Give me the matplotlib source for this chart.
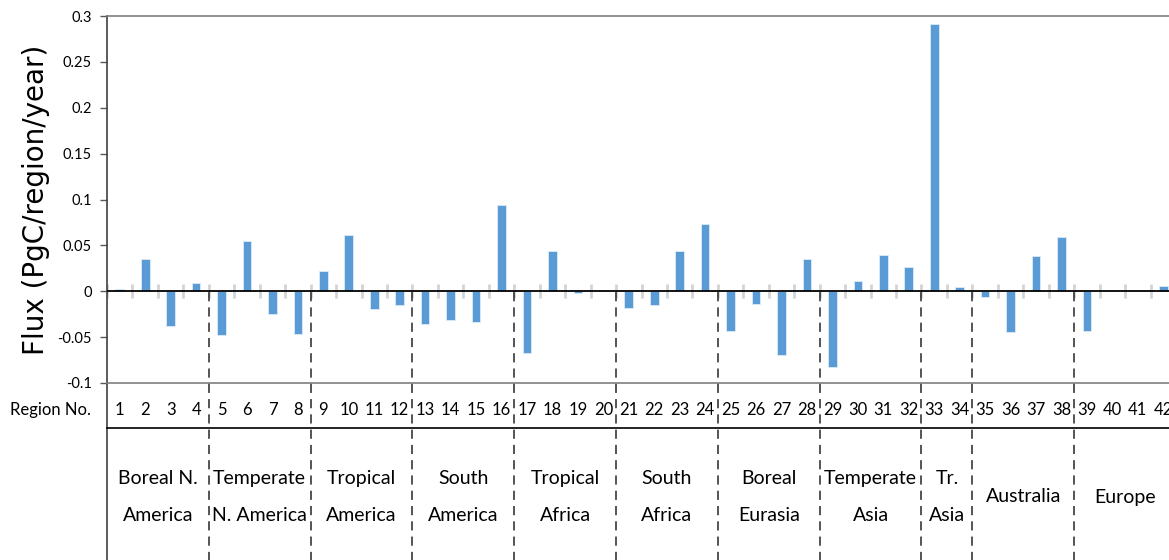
import numpy as np
import matplotlib
matplotlib.use("Agg")
import matplotlib.pyplot as plt
import matplotlib.transforms as mtransforms

# region numbers and flux values
region_no = list(range(1, 43))
flux = [0.0025, 0.035, -0.038, 0.009,
        -0.048, 0.055, -0.025, -0.047,
        0.0225, 0.061, -0.019, -0.015,
        -0.036, -0.031, -0.034, 0.094,
        -0.067, 0.0436, -0.002, 0.0,
        -0.018, -0.0145, 0.0436, 0.0738,
        -0.043, -0.0138, -0.069, 0.0356,
        -0.0825, 0.011, 0.039, 0.026,
        0.291, 0.0047,
        -0.0058, -0.044, 0.038, 0.059,
        -0.043, 0.0, 0.0005, 0.0062]

group_names = ["Boreal N.\nAmerica", "Temperate\nN. America", "Tropical\nAmerica",
               "South\nAmerica", "Tropical\nAfrica", "South\nAfrica",
               "Boreal\nEurasia", "Temperate\nAsia", "Tr.\nAsia",
               "Australia", "Europe"]
group_first = [1, 5, 9, 13, 17, 21, 25, 29, 33, 35, 39]
group_last = [4, 8, 12, 16, 20, 24, 28, 32, 34, 38, 42]

yticks = [-0.1, -0.05, 0, 0.05, 0.1, 0.15, 0.2, 0.25, 0.3]
ytick_labels = ["-0.1", "-0.05", "0", "0.05", "0.1", "0.15", "0.2", "0.25", "0.3"]

bar_color = "#5B9BD5"
narrow = ["Liberation Sans Narrow", "Lato", "DejaVu Sans"]

fig = plt.figure(figsize=(11.69, 5.6), dpi=100)
ax = fig.add_axes([107 / 1169, 1 - 383 / 560, 1069 / 1169, 367 / 560])

ax.bar(region_no, flux, width=0.34, color=bar_color, edgecolor="#DDEBF7",
       linewidth=0.6, zorder=3)

ax.set_xlim(0.5, 42.5)
ax.set_ylim(-0.1, 0.3)
ax.set_yticks(yticks)
ax.set_yticklabels(ytick_labels, fontfamily=["Lato", "DejaVu Sans"], fontsize=10.5)
ax.tick_params(axis="y", direction="out", length=5, width=1, color="#595959", pad=6)
ax.set_xticks([])

ax.spines["right"].set_visible(False)
ax.spines["top"].set_color("#7F7F7F")
ax.spines["bottom"].set_color("#7F7F7F")
ax.spines["left"].set_color("#404040")
for s in ["top", "bottom", "left"]:
    ax.spines[s].set_linewidth(1.2)

# zero line and light cross ticks between categories
ax.axhline(0, color="black", linewidth=1.3, zorder=4)
bounds = np.arange(0.5, 43, 1.0)
ax.vlines(bounds, -0.0075, 0.0075, color="#D4D4D4", linewidth=2, zorder=2)

# dashed group separators from zero line down through the table
seps = [g - 0.5 for g in group_first[1:]]
ax.vlines(seps, -0.30, 0, colors="#262626", linestyles=(0, (6, 4)),
          linewidth=1.1, clip_on=False, zorder=5)

trans = mtransforms.blended_transform_factory(ax.transData, ax.transAxes)

# table under the plot
ax.plot([0.5, 0.5], [0, -0.5], transform=trans, color="#404040",
        linewidth=1.2, clip_on=False)
row_line = (383 - 428) / 367
ax.plot([0.5, 43], [row_line, row_line], transform=trans, color="black",
        linewidth=1.2, clip_on=False)

num_y = (383 - 410) / 367
for n in region_no:
    ax.text(n, num_y, str(n), transform=trans, ha="center", va="center",
            fontsize=12, fontfamily=narrow, clip_on=False)
fig.text(91 / 1169, 1 - 410 / 560, "Region No.", ha="right", va="center",
         fontsize=12, fontfamily=narrow)

name_y = (383 - 497) / 367
for name, a, b in zip(group_names, group_first, group_last):
    ax.text((a + b) / 2, name_y, name, transform=trans, ha="center", va="center",
            fontsize=14, fontfamily=narrow, linespacing=2.4, clip_on=False)

fig.text(36 / 1169, 1 - 200 / 560, "Flux (PgC/region/year)", rotation=90,
         ha="center", va="center", fontsize=20, fontfamily="DejaVu Sans")

fig.savefig("out.png", dpi=100)
